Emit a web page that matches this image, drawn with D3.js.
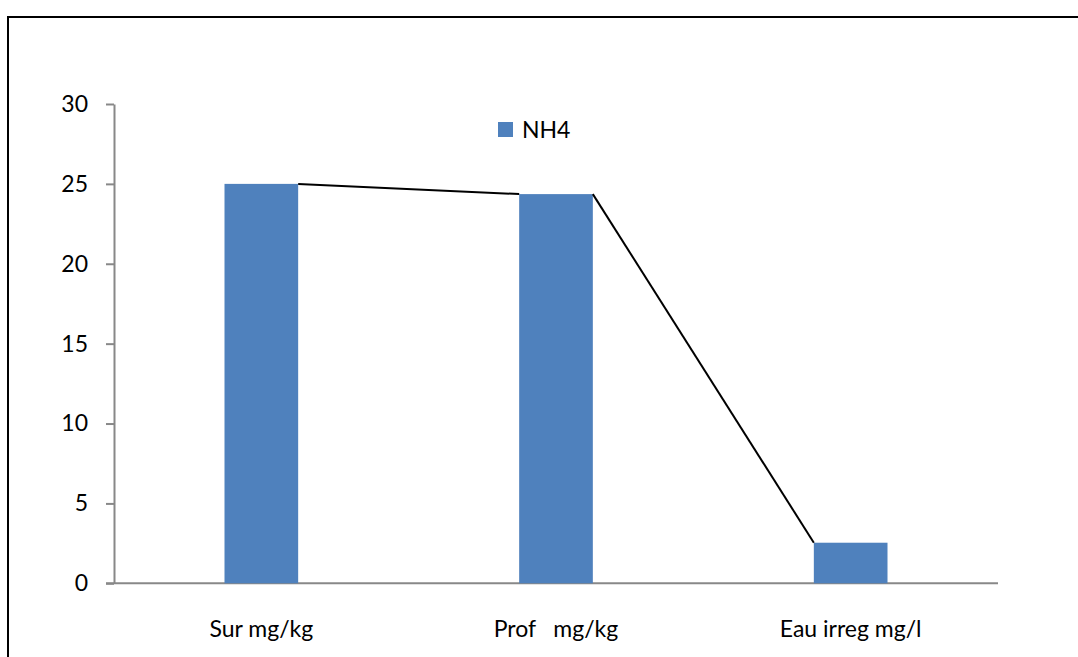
<!DOCTYPE html>
<html>
<head>
<meta charset="utf-8">
<script src="https://cdn.jsdelivr.net/npm/d3@7"></script>
<style>
  html, body { margin: 0; padding: 0; background: #fff; }
  svg { display: block; font-family: Lato, "Open Sans", sans-serif; }
</style>
</head>
<body>
<svg id="chart" width="1078" height="657"></svg>
<script>
// NH4 concentrations per sample
const categories = ["Sur mg/kg", "Prof   mg/kg", "Eau irreg mg/l"];
const nh4Values = [25, 24.36, 2.54];
const yTicks = [0, 5, 10, 15, 20, 25, 30];
const seriesName = "NH4";

const svg = d3.select("#chart");
const W = 1078, H = 657;
const plot = { left: 114, right: 998, top: 104, bottom: 583.3 };
const fontSize = 23;

// outer frame (runs off the right and bottom edges)
svg.append("rect")
  .attr("x", 8).attr("y", 17)
  .attr("width", W + 20).attr("height", H + 20)
  .attr("fill", "none").attr("stroke", "#000").attr("stroke-width", 2);

const x = d3.scaleBand()
  .domain(categories)
  .range([plot.left, plot.right])
  .paddingInner(0.75).paddingOuter(0.375);

const y = d3.scaleLinear().domain([0, 30]).range([plot.bottom, plot.top]);

// y axis
const yAxis = svg.append("g")
  .attr("transform", `translate(${plot.left},0)`)
  .call(d3.axisLeft(y).tickValues(yTicks).tickSize(8).tickPadding(18).tickSizeOuter(0));
yAxis.select(".domain").attr("stroke", "#888").attr("stroke-width", 2);
yAxis.selectAll(".tick line").attr("stroke", "#888").attr("stroke-width", 2);
yAxis.selectAll(".tick text").attr("fill", "#000").attr("font-size", fontSize)
  .attr("font-family", "Lato, sans-serif");

// x axis
const xAxis = svg.append("g")
  .attr("transform", `translate(0,${plot.bottom})`)
  .call(d3.axisBottom(x).tickSize(0).tickPadding(37).tickSizeOuter(0));
xAxis.select(".domain").attr("stroke", "#888").attr("stroke-width", 2)
  .attr("d", `M${plot.left - 8},0H${plot.right}`);
xAxis.selectAll(".tick text").attr("fill", "#000").attr("font-size", fontSize)
  .attr("font-family", "Lato, sans-serif")
  .style("white-space", "pre");

// bars
svg.append("g").selectAll("rect")
  .data(nh4Values)
  .join("rect")
  .attr("x", (d, i) => x(categories[i]))
  .attr("y", d => y(d))
  .attr("width", x.bandwidth())
  .attr("height", d => y(0) - y(d))
  .attr("fill", "#4F81BD");

// series lines joining neighbouring bar tops
const links = d3.pairs(nh4Values.map((v, i) => ({ v, c: categories[i] })));
svg.append("g").selectAll("line")
  .data(links)
  .join("line")
  .attr("x1", d => x(d[0].c) + x.bandwidth())
  .attr("y1", d => y(d[0].v))
  .attr("x2", d => x(d[1].c))
  .attr("y2", d => y(d[1].v))
  .attr("stroke", "#000").attr("stroke-width", 2);

// legend
const legend = svg.append("g").attr("transform", "translate(498,122)");
legend.append("rect").attr("width", 15).attr("height", 15).attr("fill", "#4F81BD");
legend.append("text").attr("x", 24).attr("y", 16)
  .attr("font-size", fontSize).attr("fill", "#000").text(seriesName);
</script>
</body>
</html>
